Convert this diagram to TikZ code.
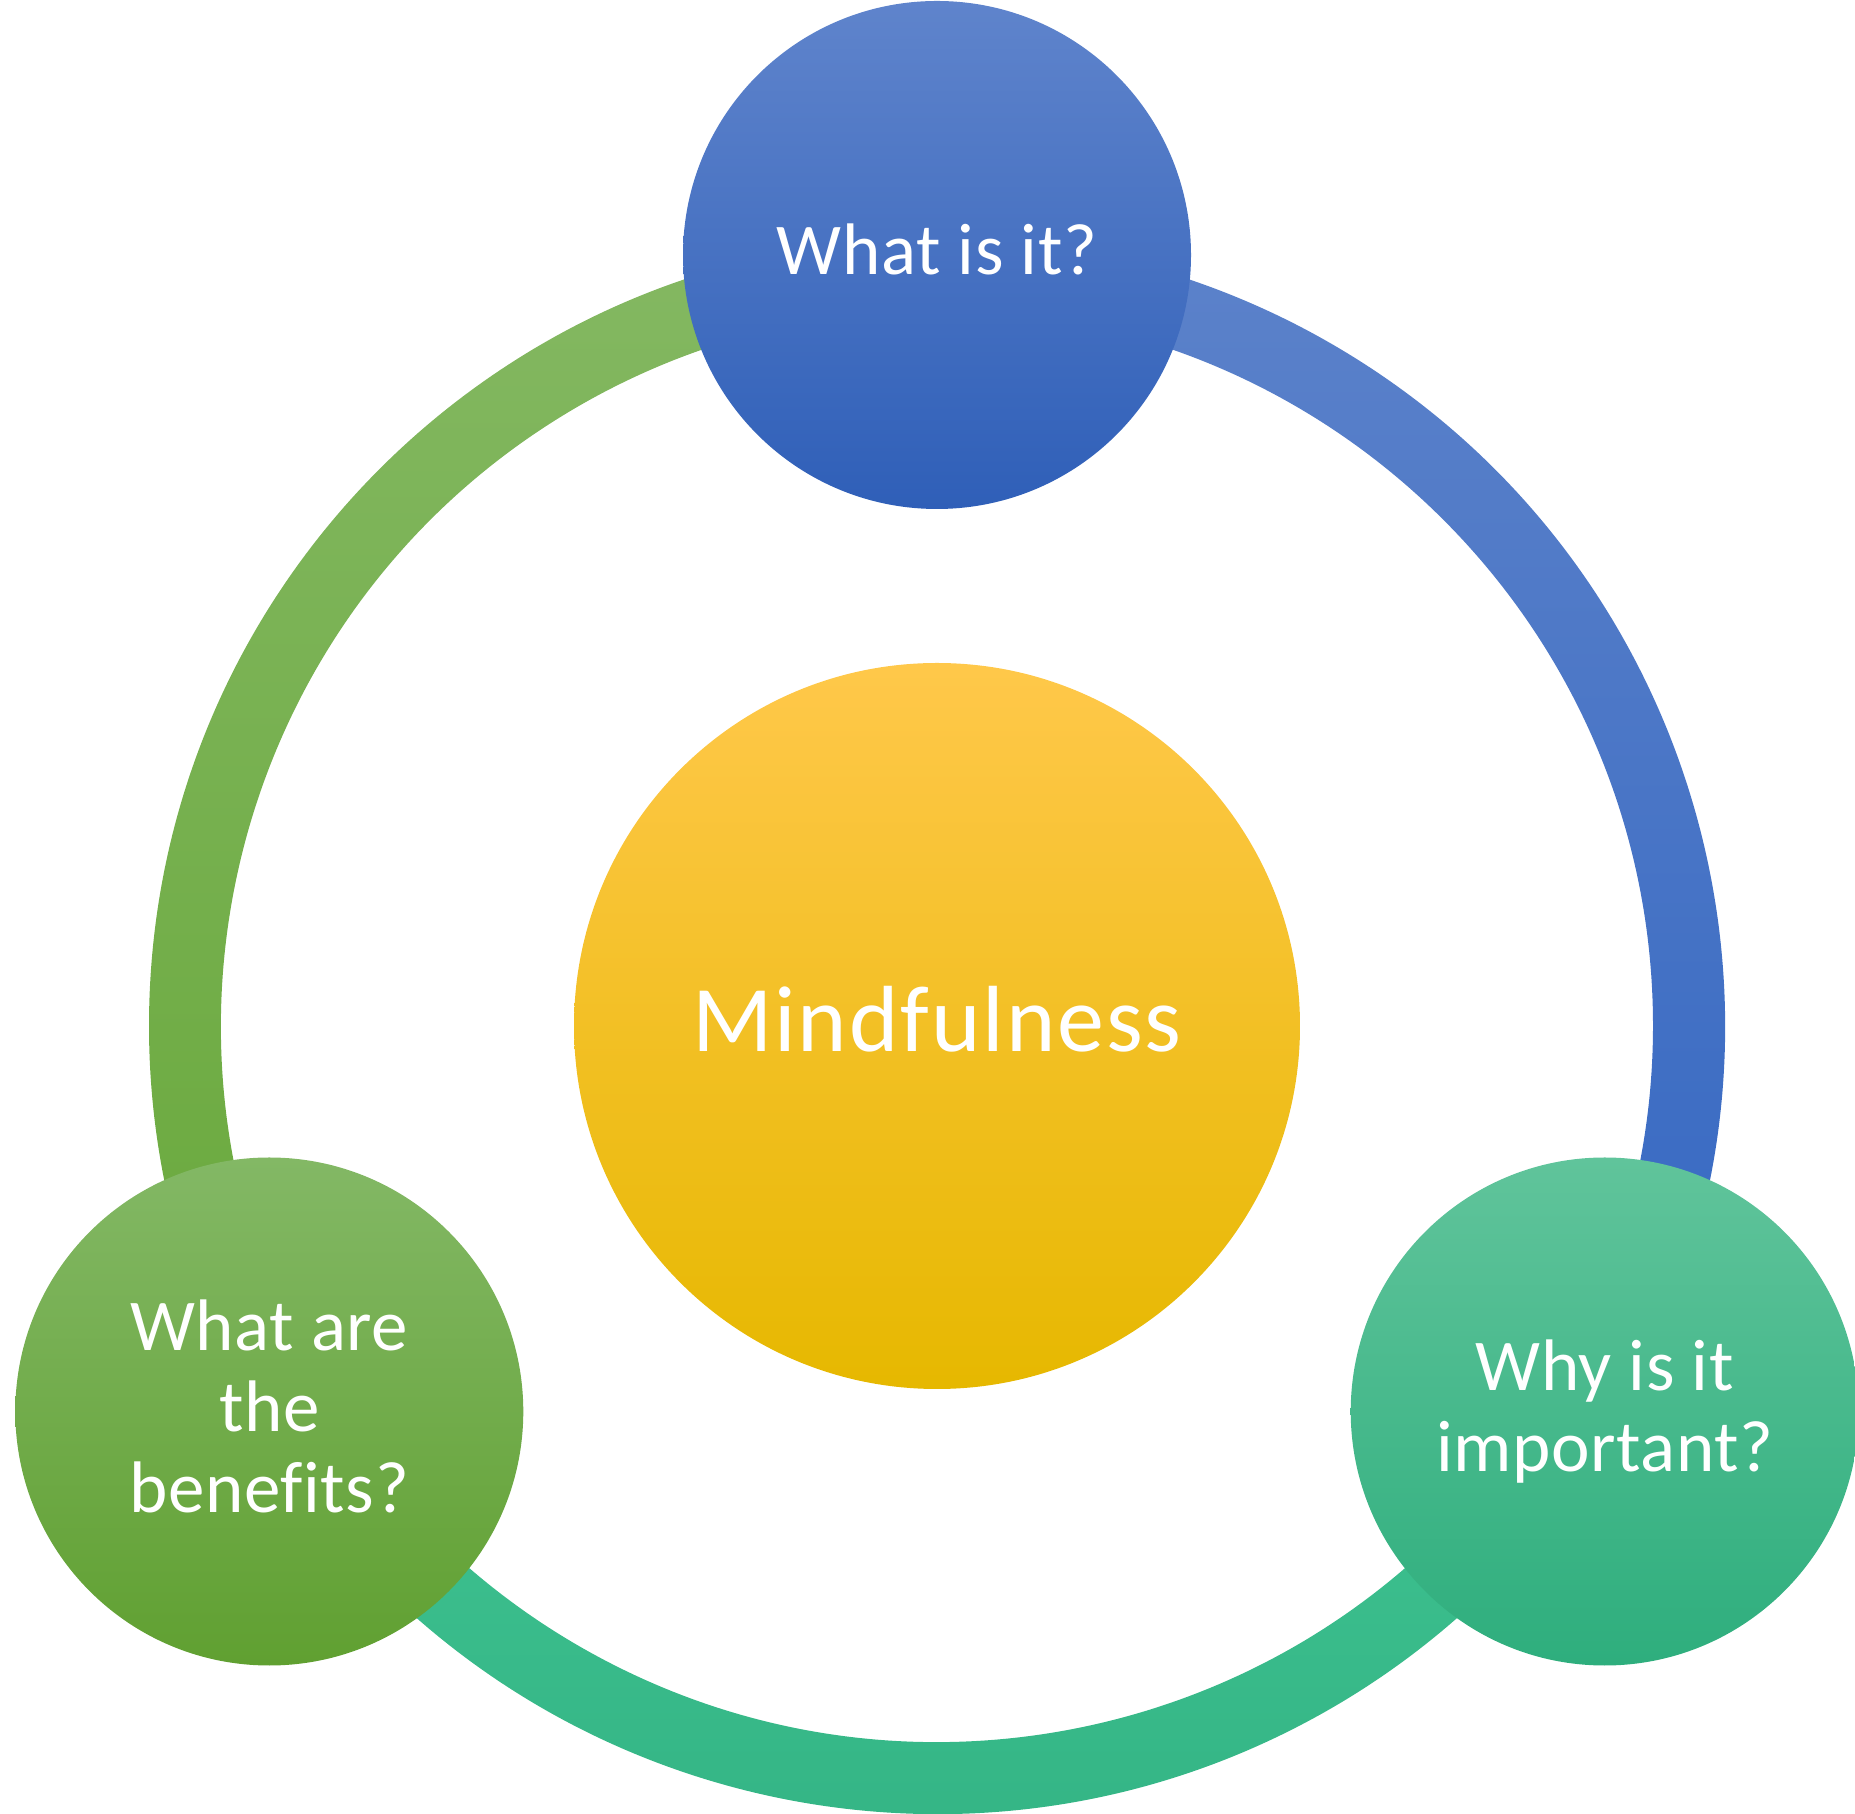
\documentclass[tikz,border=0pt]{standalone}
\usepackage{fontspec}
\setmainfont{Carlito}[Ligatures=CommonOff]
\newfontfamily\bubblefont{Carlito}[Ligatures=CommonOff, LetterSpace=0.8]
\newfontfamily\hubfont{Carlito}[Ligatures=CommonOff, LetterSpace=2.1]
\usetikzlibrary{calc}

% ring and bubble colours
\definecolor{blueTop}{HTML}{5F84CC}
\definecolor{blueMid}{HTML}{4170C6}
\definecolor{blueBot}{HTML}{2F5FB8}
\definecolor{arcBlueTop}{HTML}{5C82CA}
\definecolor{arcBlueBot}{HTML}{3467C2}
\definecolor{greenTop}{HTML}{83B865}
\definecolor{greenMid}{HTML}{70AF44}
\definecolor{greenBot}{HTML}{60A031}
\definecolor{arcGreenTop}{HTML}{84B862}
\definecolor{arcGreenBot}{HTML}{68A83A}
\definecolor{tealTop}{HTML}{60C49B}
\definecolor{tealMid}{HTML}{40C08F}
\definecolor{tealBot}{HTML}{2EAE7D}
\definecolor{arcTealTop}{HTML}{3FC391}
\definecolor{arcTealBot}{HTML}{32B283}
\definecolor{goldTop}{HTML}{FFC84A}
\definecolor{goldMid}{HTML}{FFC400}
\definecolor{goldBot}{HTML}{E6B800}

\tikzset{
  bubble/.style={circle, inner sep=0pt, minimum size=508pt},
  hub/.style={circle, inner sep=0pt, minimum size=726pt},
  qtext/.style={text=white, align=center, inner sep=0pt,
    font=\bubblefont\fontsize{73}{81}\selectfont},
  hubtext/.style={text=white, inner sep=0pt,
    font=\hubfont\fontsize{94}{100}\selectfont}
}

% a disc drawn as a closed arc starting at its top
\newcommand\discpath[2]{($(#1)+(0,#2)$) arc[start angle=90, end angle=450, radius=#2] -- cycle}

\begin{document}
\begin{tikzpicture}[x=1pt, y=1pt]
  \useasboundingbox (0,0) rectangle (1855,1813);
  \clip (0,0) rectangle (1855,1813);
  \coordinate (c) at (937,787);

  % three coloured ring segments
  \shade[top color=arcGreenTop, bottom color=arcGreenBot]
    ($(c)+(90:788pt)$) arc[start angle=90, end angle=210, radius=788pt]
    -- ($(c)+(210:716pt)$) arc[start angle=210, end angle=90, radius=716pt] -- cycle;
  \shade[top color=arcBlueTop, bottom color=arcBlueBot]
    ($(c)+(-30:788pt)$) arc[start angle=-30, end angle=90, radius=788pt]
    -- ($(c)+(90:716pt)$) arc[start angle=90, end angle=-30, radius=716pt] -- cycle;
  \shade[top color=arcTealTop, bottom color=arcTealBot]
    ($(c)+(210:788pt)$) arc[start angle=210, end angle=330, radius=788pt]
    -- ($(c)+(330:716pt)$) arc[start angle=330, end angle=210, radius=716pt] -- cycle;

  % centre disc and question discs
  \node[hub] (mind) at (c) {};
  \node[bubble] (what) at ($(c)+(90:771pt)$) {};
  \node[bubble] (benefits) at ($(c)+(210:771pt)$) {};
  \node[bubble] (why) at ($(c)+(330:771pt)$) {};

  \shade[top color=goldTop, middle color=goldMid, bottom color=goldBot]
    \discpath{mind.center}{363pt};
  \shade[top color=blueTop, middle color=blueMid, bottom color=blueBot]
    \discpath{what.center}{254pt};
  \shade[top color=greenTop, middle color=greenMid, bottom color=greenBot]
    \discpath{benefits.center}{254pt};
  \shade[top color=tealTop, middle color=tealMid, bottom color=tealBot]
    \discpath{why.center}{254pt};

  % labels
  \node[hubtext] (mindlbl) at ($(mind)+(0,7)$) {Mindfulness};
  \node[qtext] (whatlbl) at ($(what)+(0,6)$) {What is it?};
  \node[qtext] (benefitslbl) at ($(benefits)+(0,5)$) {What are\\the\\benefits?};
  \node[qtext] (whylbl) at ($(why)+(0,0)$) {Why is it\\important?};
\end{tikzpicture}
\end{document}
